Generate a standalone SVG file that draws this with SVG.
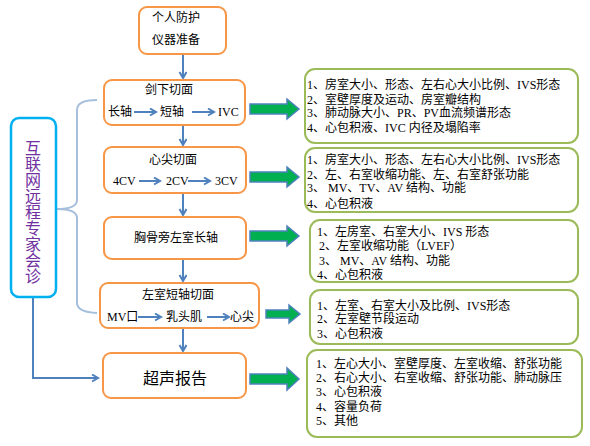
<svg xmlns="http://www.w3.org/2000/svg" width="590" height="446" viewBox="0 0 590 446">
<defs>
<marker id="ah" markerWidth="10" markerHeight="10" refX="7" refY="4" orient="auto" markerUnits="userSpaceOnUse">
<path d="M1,0.5 L7,4 L1,7.5" fill="none" stroke="#4F81BD" stroke-width="2"/>
</marker>
<style>
.ob{fill:#fff;stroke:#F79646;stroke-width:2}
.gb{fill:#fff;stroke:#9BBB59;stroke-width:2}
.t{font-family:"Liberation Serif","Noto Sans CJK SC",serif;font-size:12px;fill:#000}
.c{text-anchor:middle}
.ln{stroke:#4F81BD;stroke-width:2;fill:none}
.ga{fill:#00B050;stroke:#4F81BD;stroke-width:1.5}
</style>
</defs>
<rect width="590" height="446" fill="#fff"/>

<g id="connectors">
<path class="ln" d="M183,55 V78" marker-end="url(#ah)"/>
<path class="ln" d="M183,125 V145" marker-end="url(#ah)"/>
<path class="ln" d="M183,193 V215" marker-end="url(#ah)"/>
<path class="ln" d="M183,259 V281" marker-end="url(#ah)"/>
<path class="ln" d="M183,328 V351" marker-end="url(#ah)"/>
<path class="ln" d="M33,297 V378 H98" marker-end="url(#ah)"/>
<path d="M97,100 Q77,100 77,110 V200 Q77,209 57,209 Q77,209 77,218 V303 Q77,312 97,313" fill="none" stroke="#A6BFDD" stroke-width="2"/>
<path class="ga" d="M250,104 H287 V99 L299,109 L287,119 V114 H250 Z"/>
<path class="ga" d="M250,172 H287 V167 L299,177 L287,187 V182 H250 Z"/>
<path class="ga" d="M250,231 H287 V226 L299,236 L287,246 V241 H250 Z"/>
<path class="ga" d="M266,310 H289 V305 L300,314 L289,323 V318 H266 Z"/>
<path class="ga" d="M250,374 H287 V368 L299,379 L287,390 V384 H250 Z"/>
</g>

<g id="left-panel">
<rect x="11" y="118" width="45" height="179" rx="8" fill="#fff" stroke="#00B0F0" stroke-width="2.5"/>
<text x="33" y="140" font-family="'Noto Sans CJK SC',sans-serif" font-size="16" fill="#7030A0" style="writing-mode:vertical-rl">互联网远程专家会诊</text>
</g>

<g id="node-prep">
<rect class="ob" x="139" y="7" width="87" height="47" rx="8"/>
<text class="t" x="152" y="22">个人防护</text>
<text class="t" x="152" y="44">仪器准备</text>
</g>

<g id="node-subxiphoid">
<rect class="ob" x="104" y="80" width="141" height="45" rx="8"/>
<text class="t c" x="169" y="94">剑下切面</text>
<text class="t" x="108" y="116">长轴</text>
<text class="t" x="160" y="116">短轴</text>
<text class="t" x="218" y="116">IVC</text>
<path class="ln" d="M134,112 H156" marker-end="url(#ah)"/>
<path class="ln" d="M192,112 H214" marker-end="url(#ah)"/>
</g>

<g id="node-apical">
<rect class="ob" x="104" y="147" width="142" height="46" rx="8"/>
<text class="t c" x="173" y="164">心尖切面</text>
<text class="t" x="113" y="185">4CV</text>
<text class="t" x="166" y="185">2CV</text>
<text class="t" x="215" y="185">3CV</text>
<path class="ln" d="M139,181 H160" marker-end="url(#ah)"/>
<path class="ln" d="M188,181 H210" marker-end="url(#ah)"/>
</g>

<g id="node-plax">
<rect class="ob" x="104" y="217" width="142" height="42" rx="8"/>
<text class="t c" x="176" y="242">胸骨旁左室长轴</text>
</g>

<g id="node-psax">
<rect class="ob" x="100" y="283" width="159" height="45" rx="8"/>
<text class="t c" x="178" y="299">左室短轴切面</text>
<text class="t" x="107" y="321">MV口</text>
<text class="t" x="166" y="321">乳头肌</text>
<text class="t" x="230" y="321">心尖</text>
<path class="ln" d="M138,317 H161" marker-end="url(#ah)"/>
<path class="ln" d="M207,317 H229" marker-end="url(#ah)"/>
</g>

<g id="node-report">
<rect class="ob" x="103" y="353" width="143" height="45" rx="8"/>
<text class="t c" x="175" y="384" style="font-size:16px">超声报告</text>
</g>

<g id="info-subxiphoid">
<rect class="gb" x="305" y="69" width="273" height="74" rx="10"/>
<text class="t" x="307" y="89">1、房室大小、形态、左右心大小比例、IVS形态</text>
<text class="t" x="307" y="104">2、室壁厚度及运动、房室瓣结构</text>
<text class="t" x="307" y="117">3、肺动脉大小、PR、PV血流频谱形态</text>
<text class="t" x="307" y="132">4、心包积液、IVC 内径及塌陷率</text>
</g>

<g id="info-apical">
<rect class="gb" x="305" y="148" width="273" height="64" rx="10"/>
<text class="t" x="307" y="164">1、房室大小、形态、左右心大小比例、IVS形态</text>
<text class="t" x="307" y="179">2、左、右室收缩功能、左、右室舒张功能</text>
<text class="t" x="307" y="192">3、 MV、TV、AV 结构、功能</text>
<text class="t" x="307" y="208">4、心包积液</text>
</g>

<g id="info-plax">
<rect class="gb" x="310" y="220" width="268" height="62" rx="10"/>
<text class="t" x="317" y="236">1、左房室、右室大小、IVS 形态</text>
<text class="t" x="319" y="250">2、左室收缩功能（LVEF）</text>
<text class="t" x="319" y="265">3、 MV、AV 结构、功能</text>
<text class="t" x="317" y="279">4、心包积液</text>
</g>

<g id="info-psax">
<rect class="gb" x="310" y="290" width="268" height="54" rx="10"/>
<text class="t" x="317" y="310">1、左室、右室大小及比例、IVS形态</text>
<text class="t" x="317" y="323">2、左室壁节段运动</text>
<text class="t" x="317" y="338">3、心包积液</text>
</g>

<g id="info-report">
<rect class="gb" x="307" y="350" width="275" height="87" rx="10"/>
<text class="t" x="316" y="368">1、左心大小、室壁厚度、左室收缩、舒张功能</text>
<text class="t" x="316" y="382">2、右心大小、右室收缩、舒张功能、肺动脉压</text>
<text class="t" x="316" y="396">3、心包积液</text>
<text class="t" x="316" y="411">4、容量负荷</text>
<text class="t" x="316" y="425">5、其他</text>
</g>
</svg>
